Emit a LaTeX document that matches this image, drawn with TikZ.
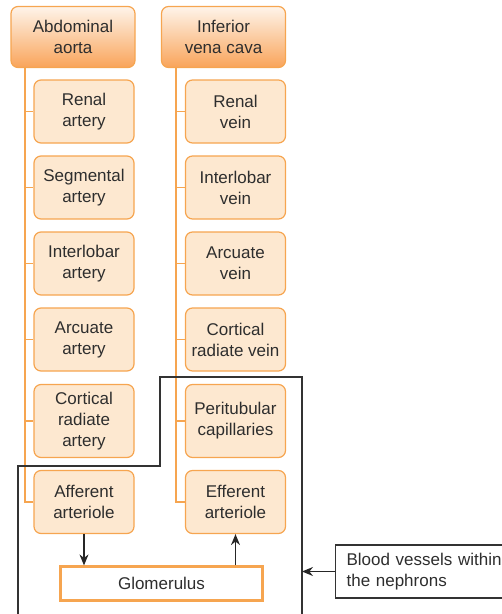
\documentclass[tikz,border=0pt]{standalone}
\usepackage{fontspec}
\setmainfont{Liberation Sans}
\usetikzlibrary{arrows.meta,shadings}
\definecolor{boxfill}{HTML}{FDE8D0}
\definecolor{boxline}{HTML}{F6A550}
\definecolor{topfill}{HTML}{F9A45A}
\definecolor{toptop}{HTML}{FEF4EA}
\definecolor{txt}{HTML}{2E2E2E}
\tikzset{
  x=1pt, y=-1pt,
  every node/.style={font=\fontsize{17}{21}\selectfont, text=txt, align=center, inner sep=0pt},
  vessel/.style={draw=boxline, line width=1.2pt, rounded corners=7pt, fill=boxfill,
    minimum width=100pt, minimum height=63pt},
  tallvessel/.style={vessel, minimum height=73pt},
  trunk/.style={draw=boxline, line width=1.2pt, rounded corners=7pt,
    top color=toptop, bottom color=topfill, minimum width=124pt, minimum height=61pt},
  branch/.style={draw=boxline, line width=1.3pt},
  flow/.style={draw=black!85, line width=1.3pt, -{Stealth[length=11pt,width=9pt]}},
  frame/.style={draw=black!80, line width=1.2pt}
}
\begin{document}
\begin{tikzpicture}
\useasboundingbox (0,0) rectangle (502,614);
% trunk vessels
\node[trunk] (aorta) at (73,37) {Abdominal\\aorta};
\node[trunk] (ivc) at (223.5,37) {Inferior\\vena cava};
% arterial side
\node[vessel] (ra) at (84,111.5) {Renal\\artery};
\node[vessel] (sa) at (84,187.5) {Segmental\\artery};
\node[vessel] (ia) at (84,263.5) {Interlobar\\artery};
\node[vessel] (aa) at (84,339.5) {Arcuate\\artery};
\node[tallvessel] (ca) at (84,421) {Cortical\\radiate\\artery};
\node[vessel] (af) at (84,502) {Afferent\\arteriole};
% venous side
\node[vessel] (rv) at (235.5,111.5) {Renal\\vein};
\node[vessel] (iv) at (235.5,187.5) {Interlobar\\vein};
\node[vessel] (av) at (235.5,263.5) {Arcuate\\vein};
\node[vessel] (cv) at (235.5,339.5) {Cortical\\radiate vein};
\node[tallvessel] (pc) at (235.5,421) {Peritubular\\capillaries};
\node[vessel] (ef) at (235.5,502) {Efferent\\arteriole};
% glomerulus
\node[draw=boxline, line width=2.2pt, fill=white, minimum width=202pt, minimum height=34pt] (gl) at (161.5,583.5) {Glomerulus};
% tree lines
\coordinate (lt) at (25,67);
\coordinate (rt) at (176,67);
\draw[branch] (lt) |- (af.west);
\draw[branch] (rt) |- (ef.west);
\foreach \n in {ra,sa,ia,aa,ca}{\draw[branch] (lt |- \n.west) -- (\n.west);}
\foreach \n in {rv,iv,av,cv,pc}{\draw[branch] (rt |- \n.west) -- (\n.west);}
% blood flow through the glomerulus
\draw[flow] (af.south) -- (af.south |- gl.north);
\draw[flow] (gl.north -| ef.south) -- (ef.south);
% nephron boundary
\coordinate (b1) at (18,620);
\coordinate (b2) at (18,466);
\coordinate (b3) at (160,466);
\coordinate (b4) at (160,377);
\coordinate (b5) at (302,377);
\coordinate (b6) at (302,620);
\draw[frame] (b1) -- (b2) -- (b3) -- (b4) -- (b5) -- (b6);
% label
\node[draw=black!80, line width=1.2pt, fill=white, minimum height=53pt, text width=170pt, align=left, inner xsep=11pt, anchor=west] (lbl) at (335,571.5) {Blood vessels within\\the nephrons};
\coordinate (bt) at (302,571.5);
\draw[flow] (lbl.west) -- (bt);
\end{tikzpicture}
\end{document}
